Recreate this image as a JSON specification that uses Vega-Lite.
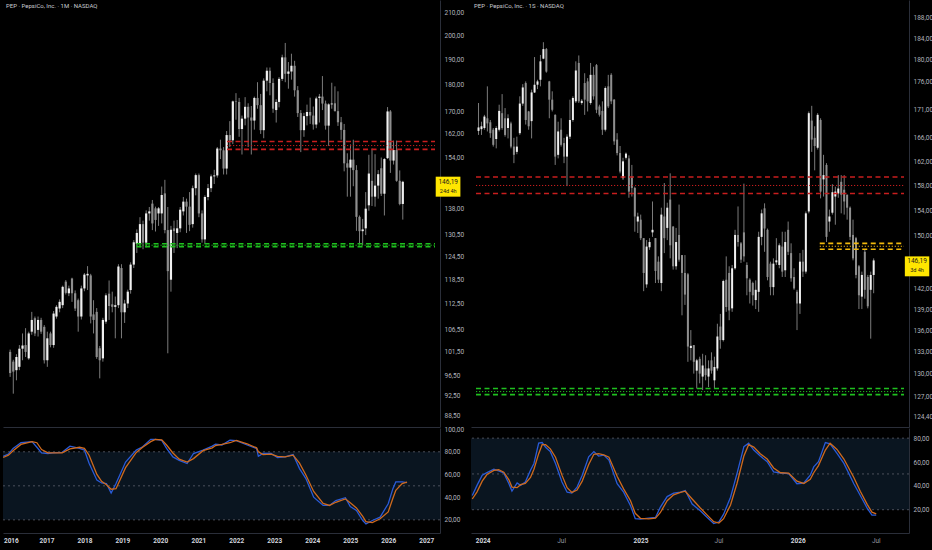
{
  "$schema": "https://vega.github.io/schema/vega-lite/v6.json",
  "background": "#000000",
  "padding": 0,
  "spacing": 1,
  "config": {
    "locale": {"number": {"decimal": ",", "thousands": ".", "grouping": [3], "currency": ["", ""]}},
    "view": {"stroke": null},
    "font": "Roboto",
    "axis": {"title": null, "grid": false, "ticks": false, "labelOverlap": false, "labelFont": "Roboto", "labelFontSize": 6.5, "labelColor": "#b2b5be", "domainColor": "#2a2e39", "domainWidth": 1}
  },
  "datasets": {
    "monthly": [
      {"t":"2015-12-01","o":101.5,"h":102.0,"l":96.2,"c":97.0},
      {"t":"2016-01-01","o":99.4,"h":99.8,"l":92.8,"c":97.3},
      {"t":"2016-02-01","o":97.6,"h":101.0,"l":95.5,"c":100.4},
      {"t":"2016-03-01","o":98.3,"h":103.0,"l":97.6,"c":102.2},
      {"t":"2016-04-01","o":102.2,"h":105.6,"l":99.7,"c":102.9},
      {"t":"2016-05-01","o":103.0,"h":106.8,"l":100.4,"c":101.5},
      {"t":"2016-06-01","o":100.1,"h":106.0,"l":99.8,"c":105.6},
      {"t":"2016-07-01","o":106.0,"h":110.6,"l":105.3,"c":108.7},
      {"t":"2016-08-01","o":109.1,"h":109.5,"l":105.0,"c":105.6},
      {"t":"2016-09-01","o":106.4,"h":109.5,"l":104.9,"c":108.7},
      {"t":"2016-10-01","o":108.7,"h":109.2,"l":105.5,"c":106.0},
      {"t":"2016-11-01","o":107.1,"h":107.5,"l":99.0,"c":99.7},
      {"t":"2016-12-01","o":99.7,"h":106.0,"l":98.3,"c":104.5},
      {"t":"2017-01-01","o":105.6,"h":106.0,"l":102.5,"c":103.0},
      {"t":"2017-02-01","o":103.0,"h":110.8,"l":102.4,"c":110.2},
      {"t":"2017-03-01","o":109.5,"h":112.2,"l":109.0,"c":111.8},
      {"t":"2017-04-01","o":111.4,"h":113.6,"l":110.5,"c":113.0},
      {"t":"2017-05-01","o":112.2,"h":117.0,"l":111.5,"c":116.7},
      {"t":"2017-06-01","o":118.0,"h":118.4,"l":114.8,"c":115.2},
      {"t":"2017-07-01","o":115.1,"h":117.0,"l":114.4,"c":116.3},
      {"t":"2017-08-01","o":118.8,"h":119.0,"l":113.0,"c":115.1},
      {"t":"2017-09-01","o":115.1,"h":115.8,"l":110.8,"c":111.4},
      {"t":"2017-10-01","o":113.4,"h":113.8,"l":106.0,"c":109.5},
      {"t":"2017-11-01","o":109.5,"h":117.0,"l":108.8,"c":116.3},
      {"t":"2017-12-01","o":116.3,"h":120.2,"l":115.6,"c":119.8},
      {"t":"2018-01-01","o":119.6,"h":122.0,"l":115.9,"c":120.0},
      {"t":"2018-02-01","o":119.6,"h":120.0,"l":107.9,"c":109.5},
      {"t":"2018-03-01","o":110.0,"h":113.4,"l":105.6,"c":108.7},
      {"t":"2018-04-01","o":110.6,"h":111.5,"l":100.0,"c":100.4},
      {"t":"2018-05-01","o":102.3,"h":102.8,"l":95.9,"c":99.7},
      {"t":"2018-06-01","o":100.1,"h":109.2,"l":99.4,"c":108.7},
      {"t":"2018-07-01","o":108.3,"h":115.1,"l":107.8,"c":114.6},
      {"t":"2018-08-01","o":115.0,"h":118.3,"l":108.7,"c":112.0},
      {"t":"2018-09-01","o":112.4,"h":115.5,"l":110.5,"c":111.8},
      {"t":"2018-10-01","o":111.8,"h":114.3,"l":104.5,"c":112.2},
      {"t":"2018-11-01","o":112.2,"h":122.5,"l":111.5,"c":121.9},
      {"t":"2018-12-01","o":121.5,"h":122.5,"l":104.5,"c":110.5},
      {"t":"2019-01-01","o":110.5,"h":113.5,"l":108.0,"c":112.6},
      {"t":"2019-02-01","o":112.6,"h":116.0,"l":111.5,"c":115.5},
      {"t":"2019-03-01","o":115.9,"h":123.0,"l":115.0,"c":122.4},
      {"t":"2019-04-01","o":122.4,"h":129.0,"l":121.5,"c":128.4},
      {"t":"2019-05-01","o":128.0,"h":132.0,"l":125.5,"c":131.0},
      {"t":"2019-06-01","o":128.0,"h":135.5,"l":127.0,"c":133.5},
      {"t":"2019-07-01","o":133.5,"h":134.5,"l":126.5,"c":128.3},
      {"t":"2019-08-01","o":128.3,"h":137.5,"l":127.0,"c":136.6},
      {"t":"2019-09-01","o":136.6,"h":138.5,"l":134.5,"c":137.2},
      {"t":"2019-10-01","o":139.5,"h":140.6,"l":131.8,"c":133.7},
      {"t":"2019-11-01","o":138.1,"h":138.6,"l":131.4,"c":134.7},
      {"t":"2019-12-01","o":136.6,"h":138.5,"l":133.0,"c":138.1},
      {"t":"2020-01-01","o":136.6,"h":144.7,"l":133.7,"c":142.1},
      {"t":"2020-02-01","o":142.6,"h":146.8,"l":130.9,"c":131.8},
      {"t":"2020-03-01","o":131.8,"h":138.5,"l":101.2,"c":120.7},
      {"t":"2020-04-01","o":118.5,"h":133.0,"l":115.5,"c":131.9},
      {"t":"2020-05-01","o":132.3,"h":134.5,"l":125.5,"c":131.5},
      {"t":"2020-06-01","o":131.0,"h":134.7,"l":126.8,"c":132.3},
      {"t":"2020-07-01","o":132.3,"h":138.5,"l":131.2,"c":137.7},
      {"t":"2020-08-01","o":137.2,"h":141.5,"l":136.0,"c":140.1},
      {"t":"2020-09-01","o":140.1,"h":141.0,"l":131.0,"c":138.6},
      {"t":"2020-10-01","o":138.6,"h":143.0,"l":131.5,"c":133.3},
      {"t":"2020-11-01","o":133.5,"h":145.0,"l":132.5,"c":144.2},
      {"t":"2020-12-01","o":144.2,"h":148.8,"l":142.0,"c":148.3},
      {"t":"2021-01-01","o":148.3,"h":148.8,"l":135.5,"c":136.6},
      {"t":"2021-02-01","o":136.6,"h":137.5,"l":128.3,"c":129.2},
      {"t":"2021-03-01","o":129.2,"h":142.0,"l":128.0,"c":141.5},
      {"t":"2021-04-01","o":141.5,"h":145.5,"l":140.5,"c":144.2},
      {"t":"2021-05-01","o":144.2,"h":148.5,"l":143.0,"c":147.9},
      {"t":"2021-06-01","o":147.9,"h":150.0,"l":145.5,"c":148.2},
      {"t":"2021-07-01","o":148.2,"h":157.5,"l":147.5,"c":157.0},
      {"t":"2021-08-01","o":157.0,"h":160.0,"l":153.5,"c":156.4},
      {"t":"2021-09-01","o":156.4,"h":157.5,"l":148.5,"c":150.4},
      {"t":"2021-10-01","o":150.4,"h":163.0,"l":148.5,"c":161.6},
      {"t":"2021-11-01","o":161.6,"h":166.5,"l":157.5,"c":159.8},
      {"t":"2021-12-01","o":159.8,"h":174.0,"l":158.5,"c":173.7},
      {"t":"2022-01-01","o":173.7,"h":176.8,"l":167.0,"c":173.5},
      {"t":"2022-02-01","o":173.5,"h":175.0,"l":161.0,"c":163.7},
      {"t":"2022-03-01","o":163.7,"h":168.5,"l":155.0,"c":167.4},
      {"t":"2022-04-01","o":167.4,"h":175.3,"l":165.0,"c":171.7},
      {"t":"2022-05-01","o":171.7,"h":173.0,"l":157.5,"c":167.8},
      {"t":"2022-06-01","o":167.8,"h":172.0,"l":155.0,"c":166.7},
      {"t":"2022-07-01","o":166.7,"h":175.5,"l":163.5,"c":175.0},
      {"t":"2022-08-01","o":175.0,"h":181.0,"l":171.0,"c":172.3},
      {"t":"2022-09-01","o":172.3,"h":176.5,"l":162.0,"c":163.3},
      {"t":"2022-10-01","o":163.3,"h":182.5,"l":160.5,"c":181.6},
      {"t":"2022-11-01","o":181.6,"h":186.8,"l":177.5,"c":185.5},
      {"t":"2022-12-01","o":185.5,"h":186.8,"l":176.0,"c":180.7},
      {"t":"2023-01-01","o":180.7,"h":182.5,"l":169.5,"c":171.0},
      {"t":"2023-02-01","o":170.5,"h":174.5,"l":166.0,"c":173.5},
      {"t":"2023-03-01","o":173.5,"h":183.0,"l":171.5,"c":182.3},
      {"t":"2023-04-01","o":182.3,"h":192.0,"l":181.5,"c":190.9},
      {"t":"2023-05-01","o":190.9,"h":196.9,"l":181.0,"c":184.3},
      {"t":"2023-06-01","o":184.3,"h":189.0,"l":178.5,"c":185.2},
      {"t":"2023-07-01","o":185.2,"h":192.4,"l":182.0,"c":187.5},
      {"t":"2023-08-01","o":187.5,"h":189.5,"l":175.5,"c":177.9},
      {"t":"2023-09-01","o":177.9,"h":179.5,"l":168.0,"c":169.4},
      {"t":"2023-10-01","o":169.4,"h":170.5,"l":155.8,"c":163.3},
      {"t":"2023-11-01","o":163.3,"h":169.5,"l":161.0,"c":168.3},
      {"t":"2023-12-01","o":168.3,"h":172.5,"l":165.0,"c":169.8},
      {"t":"2024-01-01","o":169.8,"h":175.1,"l":165.5,"c":168.5},
      {"t":"2024-02-01","o":168.5,"h":171.8,"l":163.5,"c":165.3},
      {"t":"2024-03-01","o":165.3,"h":175.5,"l":164.0,"c":174.8},
      {"t":"2024-04-01","o":175.0,"h":176.5,"l":166.0,"c":175.5},
      {"t":"2024-05-01","o":175.5,"h":183.4,"l":170.5,"c":172.9},
      {"t":"2024-06-01","o":172.9,"h":174.0,"l":163.5,"c":164.9},
      {"t":"2024-07-01","o":164.9,"h":173.0,"l":157.9,"c":172.6},
      {"t":"2024-08-01","o":172.6,"h":180.8,"l":171.0,"c":172.9},
      {"t":"2024-09-01","o":173.0,"h":179.4,"l":170.0,"c":170.1},
      {"t":"2024-10-01","o":170.1,"h":177.5,"l":164.8,"c":166.1},
      {"t":"2024-11-01","o":166.1,"h":168.0,"l":160.0,"c":163.4},
      {"t":"2024-12-01","o":163.4,"h":165.5,"l":149.5,"c":152.1},
      {"t":"2025-01-01","o":152.1,"h":155.4,"l":141.6,"c":150.7},
      {"t":"2025-02-01","o":150.7,"h":158.4,"l":141.6,"c":153.3},
      {"t":"2025-03-01","o":153.3,"h":160.0,"l":144.8,"c":149.9},
      {"t":"2025-04-01","o":149.9,"h":151.5,"l":131.6,"c":135.6},
      {"t":"2025-05-01","o":135.6,"h":136.0,"l":127.8,"c":131.5},
      {"t":"2025-06-01","o":131.5,"h":135.0,"l":127.6,"c":132.0},
      {"t":"2025-07-01","o":132.3,"h":143.0,"l":130.4,"c":138.0},
      {"t":"2025-08-01","o":139.0,"h":154.9,"l":137.4,"c":148.8},
      {"t":"2025-09-01","o":146.5,"h":157.0,"l":138.8,"c":141.6},
      {"t":"2025-10-01","o":141.6,"h":155.1,"l":138.6,"c":145.0},
      {"t":"2025-11-01","o":145.0,"h":149.9,"l":141.0,"c":148.6},
      {"t":"2025-12-01","o":150.5,"h":154.0,"l":141.8,"c":142.5},
      {"t":"2026-01-01","o":142.5,"h":153.8,"l":136.0,"c":153.5},
      {"t":"2026-02-01","o":153.8,"h":171.6,"l":153.5,"c":170.0},
      {"t":"2026-03-01","o":170.0,"h":170.5,"l":149.0,"c":153.0},
      {"t":"2026-04-01","o":153.0,"h":159.7,"l":151.7,"c":156.5},
      {"t":"2026-05-01","o":156.5,"h":159.7,"l":146.2,"c":146.5},
      {"t":"2026-06-01","o":146.5,"h":149.8,"l":139.0,"c":139.4},
      {"t":"2026-07-01","o":139.4,"h":146.5,"l":134.8,"c":146.19}
    ],
    "weekly": [
      {"t":"2023-12-11","o":167.2,"h":172.1,"l":166.5,"c":167.8},
      {"t":"2023-12-18","o":167.5,"h":168.8,"l":166.5,"c":168.0},
      {"t":"2023-12-25","o":167.7,"h":170.0,"l":167.4,"c":169.7},
      {"t":"2024-01-01","o":169.4,"h":175.1,"l":167.1,"c":168.5},
      {"t":"2024-01-08","o":168.7,"h":169.1,"l":166.0,"c":166.8},
      {"t":"2024-01-15","o":167.4,"h":167.7,"l":164.5,"c":164.8},
      {"t":"2024-01-22","o":165.8,"h":168.0,"l":164.2,"c":167.7},
      {"t":"2024-01-29","o":167.4,"h":171.8,"l":167.1,"c":170.7},
      {"t":"2024-02-05","o":170.3,"h":173.7,"l":167.4,"c":167.7},
      {"t":"2024-02-12","o":169.4,"h":171.2,"l":166.2,"c":166.5},
      {"t":"2024-02-19","o":167.7,"h":170.1,"l":165.9,"c":169.4},
      {"t":"2024-02-26","o":168.5,"h":168.8,"l":164.2,"c":164.5},
      {"t":"2024-03-04","o":164.5,"h":166.0,"l":161.7,"c":163.1},
      {"t":"2024-03-11","o":163.6,"h":166.2,"l":163.2,"c":164.5},
      {"t":"2024-03-18","o":166.8,"h":173.3,"l":166.5,"c":172.0},
      {"t":"2024-03-25","o":172.0,"h":175.5,"l":171.6,"c":174.9},
      {"t":"2024-04-01","o":175.7,"h":176.0,"l":168.3,"c":169.1},
      {"t":"2024-04-08","o":170.6,"h":170.7,"l":167.4,"c":168.0},
      {"t":"2024-04-15","o":168.9,"h":174.5,"l":165.9,"c":174.0},
      {"t":"2024-04-22","o":174.0,"h":180.5,"l":173.9,"c":175.4},
      {"t":"2024-04-29","o":175.4,"h":176.3,"l":174.6,"c":176.0},
      {"t":"2024-05-06","o":176.3,"h":180.9,"l":175.1,"c":179.7},
      {"t":"2024-05-13","o":180.2,"h":183.3,"l":180.1,"c":182.0},
      {"t":"2024-05-20","o":182.0,"h":182.2,"l":177.6,"c":177.8},
      {"t":"2024-05-27","o":176.0,"h":176.1,"l":169.4,"c":172.7},
      {"t":"2024-06-03","o":172.7,"h":174.2,"l":170.6,"c":170.9},
      {"t":"2024-06-10","o":170.0,"h":170.1,"l":161.4,"c":162.8},
      {"t":"2024-06-17","o":163.1,"h":168.8,"l":162.5,"c":167.1},
      {"t":"2024-06-24","o":167.4,"h":169.4,"l":164.5,"c":164.8},
      {"t":"2024-07-01","o":165.1,"h":166.0,"l":161.7,"c":162.8},
      {"t":"2024-07-08","o":162.8,"h":166.6,"l":157.9,"c":166.2},
      {"t":"2024-07-15","o":166.2,"h":172.7,"l":165.8,"c":169.1},
      {"t":"2024-07-22","o":169.1,"h":173.3,"l":168.8,"c":173.0},
      {"t":"2024-07-29","o":172.4,"h":179.7,"l":172.1,"c":178.0},
      {"t":"2024-08-05","o":179.4,"h":180.8,"l":172.1,"c":172.4},
      {"t":"2024-08-12","o":172.1,"h":172.8,"l":171.8,"c":172.5},
      {"t":"2024-08-19","o":175.7,"h":177.5,"l":170.0,"c":172.7},
      {"t":"2024-08-26","o":176.0,"h":176.6,"l":170.6,"c":172.4},
      {"t":"2024-09-02","o":172.1,"h":179.4,"l":171.8,"c":177.2},
      {"t":"2024-09-09","o":177.2,"h":178.7,"l":172.7,"c":173.3},
      {"t":"2024-09-16","o":179.0,"h":179.2,"l":170.3,"c":170.9},
      {"t":"2024-09-23","o":171.5,"h":171.8,"l":169.7,"c":170.0},
      {"t":"2024-09-30","o":170.7,"h":172.4,"l":166.5,"c":167.4},
      {"t":"2024-10-07","o":167.4,"h":175.1,"l":167.1,"c":174.8},
      {"t":"2024-10-14","o":175.1,"h":177.2,"l":171.2,"c":171.5},
      {"t":"2024-10-21","o":177.2,"h":177.5,"l":171.9,"c":172.4},
      {"t":"2024-10-28","o":172.7,"h":172.8,"l":164.8,"c":165.4},
      {"t":"2024-11-04","o":165.7,"h":166.8,"l":163.0,"c":163.4},
      {"t":"2024-11-11","o":163.4,"h":164.6,"l":160.0,"c":160.3},
      {"t":"2024-11-18","o":159.2,"h":162.6,"l":158.9,"c":162.0},
      {"t":"2024-11-25","o":162.6,"h":163.5,"l":162.3,"c":163.3},
      {"t":"2024-12-02","o":162.5,"h":163.0,"l":156.0,"c":157.0},
      {"t":"2024-12-09","o":159.5,"h":161.4,"l":156.2,"c":157.6},
      {"t":"2024-12-16","o":157.6,"h":157.8,"l":150.6,"c":153.0},
      {"t":"2024-12-23","o":152.2,"h":153.6,"l":150.4,"c":153.0},
      {"t":"2024-12-30","o":152.5,"h":153.3,"l":149.3,"c":149.6},
      {"t":"2025-01-06","o":149.6,"h":149.6,"l":141.6,"c":144.3},
      {"t":"2025-01-13","o":142.6,"h":149.3,"l":142.1,"c":148.3},
      {"t":"2025-01-20","o":148.2,"h":149.6,"l":147.8,"c":149.0},
      {"t":"2025-01-27","o":150.5,"h":155.4,"l":149.8,"c":150.9},
      {"t":"2025-02-03","o":149.6,"h":149.6,"l":142.8,"c":144.6},
      {"t":"2025-02-10","o":146.0,"h":146.8,"l":142.8,"c":143.3},
      {"t":"2025-02-17","o":142.8,"h":154.4,"l":141.6,"c":153.3},
      {"t":"2025-02-24","o":153.0,"h":158.4,"l":147.3,"c":149.6},
      {"t":"2025-03-03","o":151.2,"h":155.2,"l":149.3,"c":154.4},
      {"t":"2025-03-10","o":155.7,"h":160.0,"l":146.5,"c":148.5},
      {"t":"2025-03-17","o":151.4,"h":151.5,"l":144.8,"c":145.3},
      {"t":"2025-03-24","o":145.3,"h":151.2,"l":144.8,"c":149.0},
      {"t":"2025-03-31","o":150.1,"h":154.9,"l":146.0,"c":146.3},
      {"t":"2025-04-07","o":147.0,"h":147.0,"l":138.1,"c":144.3},
      {"t":"2025-04-14","o":144.3,"h":147.0,"l":139.6,"c":141.1},
      {"t":"2025-04-21","o":144.1,"h":144.3,"l":131.6,"c":133.7},
      {"t":"2025-04-28","o":133.5,"h":136.0,"l":131.8,"c":133.8},
      {"t":"2025-05-05","o":133.9,"h":133.9,"l":130.0,"c":131.6},
      {"t":"2025-05-12","o":130.4,"h":132.0,"l":128.0,"c":131.8},
      {"t":"2025-05-19","o":132.0,"h":132.3,"l":128.7,"c":130.0},
      {"t":"2025-05-26","o":129.6,"h":132.7,"l":127.8,"c":131.1},
      {"t":"2025-06-02","o":130.7,"h":132.5,"l":129.1,"c":129.8},
      {"t":"2025-06-09","o":129.6,"h":131.8,"l":128.2,"c":130.7},
      {"t":"2025-06-16","o":131.8,"h":132.9,"l":130.0,"c":130.4},
      {"t":"2025-06-23","o":129.1,"h":132.3,"l":128.0,"c":130.9},
      {"t":"2025-06-30","o":130.7,"h":136.9,"l":130.4,"c":135.1},
      {"t":"2025-07-07","o":136.5,"h":138.3,"l":133.4,"c":134.6},
      {"t":"2025-07-14","o":134.6,"h":143.3,"l":134.4,"c":143.1},
      {"t":"2025-07-21","o":143.3,"h":146.8,"l":138.6,"c":139.3},
      {"t":"2025-07-28","o":144.3,"h":145.3,"l":137.4,"c":138.8},
      {"t":"2025-08-04","o":139.1,"h":145.5,"l":138.6,"c":145.0},
      {"t":"2025-08-11","o":145.0,"h":150.9,"l":144.8,"c":150.1},
      {"t":"2025-08-18","o":150.1,"h":154.6,"l":148.3,"c":149.0},
      {"t":"2025-08-25","o":148.8,"h":149.0,"l":145.8,"c":146.3},
      {"t":"2025-09-01","o":150.5,"h":158.3,"l":146.0,"c":146.8},
      {"t":"2025-09-08","o":145.5,"h":145.9,"l":141.0,"c":143.5},
      {"t":"2025-09-15","o":143.3,"h":143.5,"l":139.8,"c":141.5},
      {"t":"2025-09-22","o":142.8,"h":143.0,"l":139.5,"c":141.0},
      {"t":"2025-09-29","o":140.3,"h":143.2,"l":139.0,"c":141.8},
      {"t":"2025-10-06","o":141.5,"h":150.6,"l":138.6,"c":149.8},
      {"t":"2025-10-13","o":149.8,"h":154.1,"l":148.5,"c":153.5},
      {"t":"2025-10-20","o":154.3,"h":155.1,"l":147.5,"c":151.1},
      {"t":"2025-10-27","o":150.9,"h":151.1,"l":143.2,"c":143.7},
      {"t":"2025-11-03","o":145.7,"h":146.0,"l":141.0,"c":142.2},
      {"t":"2025-11-10","o":142.2,"h":146.5,"l":141.0,"c":145.7},
      {"t":"2025-11-17","o":145.9,"h":149.6,"l":145.5,"c":146.2},
      {"t":"2025-11-24","o":145.5,"h":148.8,"l":145.0,"c":148.5},
      {"t":"2025-12-01","o":148.3,"h":150.6,"l":143.7,"c":144.5},
      {"t":"2025-12-08","o":144.7,"h":150.6,"l":143.7,"c":149.0},
      {"t":"2025-12-15","o":150.9,"h":152.2,"l":147.0,"c":147.5},
      {"t":"2025-12-22","o":147.3,"h":148.8,"l":143.0,"c":143.5},
      {"t":"2025-12-29","o":143.7,"h":145.0,"l":141.8,"c":142.0},
      {"t":"2026-01-05","o":141.5,"h":141.8,"l":136.0,"c":139.8},
      {"t":"2026-01-12","o":139.8,"h":147.3,"l":138.3,"c":146.0},
      {"t":"2026-01-19","o":146.0,"h":147.8,"l":143.7,"c":144.5},
      {"t":"2026-01-26","o":144.5,"h":153.8,"l":144.2,"c":153.5},
      {"t":"2026-02-02","o":153.8,"h":170.6,"l":153.5,"c":170.3},
      {"t":"2026-02-09","o":169.0,"h":171.6,"l":163.6,"c":165.7},
      {"t":"2026-02-16","o":166.0,"h":168.0,"l":160.5,"c":164.6},
      {"t":"2026-02-23","o":164.3,"h":170.3,"l":164.0,"c":170.0},
      {"t":"2026-03-02","o":169.1,"h":169.4,"l":155.9,"c":157.0},
      {"t":"2026-03-09","o":159.0,"h":163.1,"l":156.2,"c":159.7},
      {"t":"2026-03-16","o":161.4,"h":161.7,"l":149.0,"c":149.8},
      {"t":"2026-03-23","o":152.2,"h":154.1,"l":150.6,"c":153.0},
      {"t":"2026-03-30","o":153.6,"h":158.2,"l":153.3,"c":156.9},
      {"t":"2026-04-06","o":156.2,"h":157.8,"l":151.7,"c":157.0},
      {"t":"2026-04-13","o":156.7,"h":159.7,"l":156.0,"c":157.5},
      {"t":"2026-04-20","o":158.6,"h":159.7,"l":153.5,"c":156.5},
      {"t":"2026-04-27","o":157.3,"h":159.7,"l":153.3,"c":155.4},
      {"t":"2026-05-04","o":156.5,"h":156.5,"l":152.5,"c":154.4},
      {"t":"2026-05-11","o":154.4,"h":154.6,"l":149.3,"c":149.8},
      {"t":"2026-05-18","o":150.1,"h":152.5,"l":146.2,"c":146.5},
      {"t":"2026-05-25","o":149.6,"h":149.8,"l":143.5,"c":144.0},
      {"t":"2026-06-01","o":145.3,"h":145.5,"l":139.0,"c":141.0},
      {"t":"2026-06-08","o":140.8,"h":144.5,"l":139.0,"c":144.0},
      {"t":"2026-06-15","o":147.5,"h":147.8,"l":140.5,"c":141.8},
      {"t":"2026-06-22","o":143.7,"h":144.0,"l":139.1,"c":139.4},
      {"t":"2026-06-29","o":141.8,"h":144.5,"l":134.8,"c":144.0},
      {"t":"2026-07-06","o":144.0,"h":146.5,"l":141.3,"c":146.19}
    ],
    "stochL": [
      {"t":"2015-11-12","k":76,"d":75},{"t":"2016-01-01","k":78,"d":77},{"t":"2016-02-15","k":83,"d":81},
      {"t":"2016-05-01","k":88,"d":86.5},{"t":"2016-08-15","k":89,"d":89},{"t":"2016-10-01","k":84,"d":88},
      {"t":"2016-11-15","k":79,"d":82},{"t":"2017-01-15","k":78.5,"d":79},{"t":"2017-03-01","k":79,"d":79},
      {"t":"2017-06-01","k":79.5,"d":79},{"t":"2017-08-15","k":85,"d":82.5},{"t":"2017-11-15","k":83,"d":84},
      {"t":"2018-01-01","k":81.5,"d":83},{"t":"2018-02-15","k":70,"d":77},{"t":"2018-05-01","k":55,"d":60},
      {"t":"2018-06-15","k":52.5,"d":54},{"t":"2018-08-01","k":52,"d":51},{"t":"2018-09-15","k":43.6,"d":47},
      {"t":"2018-11-01","k":52,"d":47.5},{"t":"2019-02-01","k":71,"d":66},{"t":"2019-05-15","k":81.5,"d":79.5},
      {"t":"2019-07-15","k":84.5,"d":84},{"t":"2019-10-01","k":91,"d":89},{"t":"2019-11-15","k":91,"d":91},
      {"t":"2020-01-15","k":90,"d":90.5},{"t":"2020-03-01","k":83,"d":86},{"t":"2020-05-01","k":75.5,"d":79},
      {"t":"2020-07-01","k":72.5,"d":73.5},{"t":"2020-09-15","k":69.7,"d":71},{"t":"2020-11-15","k":78.5,"d":74},
      {"t":"2021-02-15","k":81.5,"d":81},{"t":"2021-05-15","k":85,"d":83.5},{"t":"2021-06-15","k":86.8,"d":85.5},
      {"t":"2021-08-15","k":86,"d":86.5},{"t":"2021-11-01","k":90.3,"d":88},{"t":"2022-01-01","k":89.8,"d":90},
      {"t":"2022-04-15","k":86,"d":87},{"t":"2022-07-15","k":83,"d":83.5},{"t":"2022-08-01","k":76,"d":80},
      {"t":"2022-09-15","k":78.5,"d":77.5},{"t":"2022-12-01","k":78.5,"d":78},{"t":"2023-02-01","k":75,"d":76},
      {"t":"2023-04-15","k":75.6,"d":75.5},{"t":"2023-07-01","k":77.6,"d":77},{"t":"2023-09-01","k":65.2,"d":70},
      {"t":"2023-11-01","k":56.4,"d":59.5},{"t":"2024-01-15","k":40,"d":45},{"t":"2024-04-15","k":32.7,"d":34.5},
      {"t":"2024-06-15","k":32.7,"d":32.7},{"t":"2024-08-15","k":37,"d":35.5},{"t":"2024-11-15","k":39.5,"d":38.5},
      {"t":"2025-01-01","k":31.8,"d":35},{"t":"2025-03-01","k":28.3,"d":30.5},{"t":"2025-05-01","k":19.4,"d":23},
      {"t":"2025-06-01","k":16.4,"d":18.5},{"t":"2025-08-01","k":19.4,"d":17.5},{"t":"2025-10-15","k":22.4,"d":21},
      {"t":"2026-01-01","k":34.2,"d":27},{"t":"2026-02-15","k":47.5,"d":39},{"t":"2026-03-15","k":53.4,"d":46},
      {"t":"2026-05-15","k":53.4,"d":52},{"t":"2026-07-01","k":52.8,"d":53.2}
    ],
    "stochR": [
      {"t":"2023-12-08","k":31.9,"d":29},{"t":"2023-12-19","k":40.4,"d":35},{"t":"2023-12-31","k":48.9,"d":44},
      {"t":"2024-01-11","k":51.1,"d":49.5},{"t":"2024-01-27","k":54,"d":53},{"t":"2024-02-07","k":52.5,"d":53.5},
      {"t":"2024-02-19","k":50.8,"d":51.5},{"t":"2024-03-02","k":41.8,"d":45},{"t":"2024-03-09","k":35.6,"d":39},
      {"t":"2024-03-21","k":42.4,"d":38.5},{"t":"2024-03-29","k":40.4,"d":41},{"t":"2024-04-09","k":43.2,"d":42},
      {"t":"2024-04-21","k":53.1,"d":47},{"t":"2024-04-29","k":58.8,"d":54},{"t":"2024-05-10","k":75.8,"d":67},
      {"t":"2024-05-18","k":76.3,"d":74.5},{"t":"2024-05-26","k":72.4,"d":74.5},{"t":"2024-06-06","k":68.7,"d":71},
      {"t":"2024-06-18","k":58.8,"d":64},{"t":"2024-07-03","k":43.2,"d":49},{"t":"2024-07-15","k":34.7,"d":38.5},
      {"t":"2024-07-26","k":33.9,"d":34.5},{"t":"2024-08-07","k":39,"d":36.5},{"t":"2024-08-19","k":48.9,"d":44},
      {"t":"2024-09-03","k":64.4,"d":58},{"t":"2024-09-15","k":68.7,"d":66.5},{"t":"2024-09-26","k":65,"d":67},
      {"t":"2024-10-08","k":65.8,"d":66},{"t":"2024-10-20","k":61.6,"d":64},{"t":"2024-11-08","k":41.8,"d":48},
      {"t":"2024-11-23","k":34.7,"d":37.5},{"t":"2024-12-09","k":23.4,"d":27.5},{"t":"2024-12-20","k":12.6,"d":17},
      {"t":"2025-01-01","k":12.1,"d":12.8},{"t":"2025-01-20","k":12.9,"d":12.4},{"t":"2025-02-05","k":13.5,"d":13},
      {"t":"2025-02-16","k":22,"d":17.5},{"t":"2025-03-04","k":31,"d":27.5},{"t":"2025-03-19","k":33.9,"d":32.5},
      {"t":"2025-04-04","k":34.7,"d":34.5},{"t":"2025-04-15","k":36.1,"d":35.5},{"t":"2025-05-01","k":24.8,"d":29},
      {"t":"2025-05-20","k":19.1,"d":21.5},{"t":"2025-06-05","k":13.5,"d":15.5},{"t":"2025-06-20","k":8.4,"d":10},
      {"t":"2025-07-02","k":9.8,"d":8.8},{"t":"2025-07-13","k":16.3,"d":12.5},{"t":"2025-07-29","k":30.5,"d":24},
      {"t":"2025-08-13","k":50.3,"d":42},{"t":"2025-08-29","k":72.9,"d":65},{"t":"2025-09-09","k":75.8,"d":74.5},
      {"t":"2025-09-21","k":70,"d":72.5},{"t":"2025-10-06","k":65,"d":67},{"t":"2025-10-22","k":60.2,"d":62.5},
      {"t":"2025-11-06","k":51.7,"d":55},{"t":"2025-11-22","k":50.8,"d":51},{"t":"2025-12-11","k":50.3,"d":50.6},
      {"t":"2025-12-30","k":41.8,"d":44},{"t":"2026-01-15","k":42.4,"d":42},{"t":"2026-01-30","k":48.9,"d":45.5},
      {"t":"2026-02-07","k":55.9,"d":51},{"t":"2026-02-18","k":60.2,"d":57},{"t":"2026-03-06","k":76.3,"d":70},
      {"t":"2026-03-17","k":75.2,"d":75.8},{"t":"2026-04-02","k":67.3,"d":70.5},{"t":"2026-04-18","k":58.8,"d":62.5},
      {"t":"2026-05-11","k":41.8,"d":47},{"t":"2026-05-26","k":31.9,"d":35.5},{"t":"2026-06-11","k":21.4,"d":24.5},
      {"t":"2026-06-22","k":15.5,"d":18},{"t":"2026-07-02","k":15.5,"d":16.5}
    ],
    "levelsL": [
      {"p":159.4,"zone":"resistance","part":"edge","start":"2021-10-05"},
      {"p":156.7,"zone":"resistance","part":"edge","start":"2021-10-05"},
      {"p":158.0,"zone":"resistance","part":"mid","start":"2021-10-05"},
      {"p":128.0,"zone":"support","part":"edge","start":"2019-04-28"},
      {"p":127.2,"zone":"support","part":"edge","start":"2019-04-28"},
      {"p":127.6,"zone":"support","part":"mid","start":"2019-04-28"}
    ],
    "levelsR": [
      {"p":159.4,"zone":"resistance","part":"edge","start":"2023-12-05"},
      {"p":156.7,"zone":"resistance","part":"edge","start":"2023-12-05"},
      {"p":158.0,"zone":"resistance","part":"mid","start":"2023-12-05"},
      {"p":128.0,"zone":"support","part":"edge","start":"2023-12-05"},
      {"p":127.2,"zone":"support","part":"edge","start":"2023-12-05"},
      {"p":127.6,"zone":"support","part":"mid","start":"2023-12-05"},
      {"p":148.8,"zone":"pivot","part":"edge","start":"2026-02-28"},
      {"p":147.9,"zone":"pivot","part":"edge","start":"2026-02-28"},
      {"p":148.35,"zone":"pivot","part":"mid","start":"2026-02-28"}
    ],
    "bands": [{"lo": 20, "hi": 80}],
    "guides": [{"v": 80}, {"v": 50}, {"v": 20}]
  },
  "hconcat": [
    {
      "spacing": 1,
      "bounds": "flush",
      "vconcat": [
        {
          "width": 437,
          "height": 427,
          "title": {"text": "PEP · PepsiCo, Inc. · 1M · NASDAQ", "anchor": "start", "frame": "group", "offset": -9, "dx": 3, "fontSize": 6, "fontWeight": "normal", "color": "#c9cbd1", "font": "Roboto"},
          "layer": [
            {
              "data": {"name": "monthly"},
              "mark": {"type": "rule", "color": "#7b7b7b", "strokeWidth": 1},
              "encoding": {
                "x": {"field": "t", "type": "temporal", "scale": {"type": "utc", "domain": [{"year": 2015, "month": 11, "date": 10, "utc": true}, {"year": 2027, "month": 5, "date": 14, "utc": true}]}, "axis": {"labels": false, "domain": true, "minExtent": 0, "maxExtent": 0}},
                "y": {"field": "l", "type": "quantitative", "scale": {"type": "log", "domain": [86.4, 215.9], "nice": false}, "axis": {"orient": "right", "values": [88.5, 92.5, 96.5, 101.5, 106.5, 112.5, 118.5, 124.5, 130.5, 138, 154, 162, 170, 180, 190, 200, 210], "tickCount": 50, "format": ".2f", "labelPadding": 4, "minExtent": 28, "maxExtent": 28}},
                "y2": {"field": "h"}
              }
            },
            {
              "data": {"name": "monthly"},
              "mark": {"type": "bar", "size": 2.2, "orient": "vertical"},
              "encoding": {
                "x": {"field": "t", "type": "temporal"},
                "y": {"field": "o", "type": "quantitative"},
                "y2": {"field": "c"},
                "color": {"condition": {"test": "datum.c >= datum.o", "value": "#f0f0f0"}, "value": "#8e8e8e"}
              }
            },
            {
              "data": {"name": "levelsL"},
              "mark": {"type": "rule"},
              "encoding": {
                "x": {"field": "start", "type": "temporal"},
                "x2": {"datum": {"year": 2027, "month": 5, "date": 14, "utc": true}},
                "y": {"field": "p", "type": "quantitative"},
                "color": {"field": "zone", "type": "nominal", "scale": {"domain": ["resistance", "support", "pivot"], "range": ["#c81e1e", "#1fbf1f", "#f2b90c"]}, "legend": null},
                "strokeDash": {"field": "part", "type": "nominal", "scale": {"domain": ["edge", "mid"], "range": [[5, 3.5], [1.2, 1.8]]}, "legend": null},
                "strokeWidth": {"field": "part", "type": "ordinal", "scale": {"domain": ["edge", "mid"], "range": [1.6, 1]}, "legend": null}
              }
            },
            {
              "data": {"values": [{}]},
              "mark": {"type": "rect", "color": "#ffe600"},
              "encoding": {
                "x": {"datum": {"year": 2027, "month": 5, "date": 21, "utc": true}, "type": "temporal"},
                "x2": {"datum": {"year": 2028, "month": 1, "date": 19, "utc": true}},
                "y": {"datum": 147.8, "type": "quantitative"},
                "y2": {"datum": 141.6}
              }
            },
            {
              "data": {"name": "monthly"},
              "transform": [{"filter": "datum.c == 146.19"}],
              "mark": {"type": "text", "font": "Roboto", "fontSize": 6.5, "color": "#1a1a1a", "align": "center", "baseline": "middle"},
              "encoding": {
                "x": {"datum": {"year": 2027, "month": 9, "date": 21, "utc": true}, "type": "temporal"},
                "y": {"field": "c", "type": "quantitative"},
                "text": {"field": "c", "type": "quantitative", "format": ".2f"}
              }
            },
            {
              "data": {"name": "monthly"},
              "transform": [{"filter": "datum.c == 146.19"}],
              "mark": {"type": "text", "font": "Roboto", "fontSize": 5.5, "color": "#1a1a1a", "align": "center", "baseline": "middle", "dy": 9, "text": "24d 4h"},
              "encoding": {
                "x": {"datum": {"year": 2027, "month": 9, "date": 21, "utc": true}, "type": "temporal"},
                "y": {"field": "c", "type": "quantitative"}
              }
            }
          ]
        },
        {
          "width": 437,
          "height": 105,
          "layer": [
            {
              "data": {"name": "bands"},
              "mark": {"type": "rect", "color": "#0a1520"},
              "encoding": {
                "x": {"datum": {"year": 2015, "month": 11, "date": 10, "utc": true}, "type": "temporal"},
                "x2": {"datum": {"year": 2027, "month": 5, "date": 14, "utc": true}},
                "y": {"field": "lo", "type": "quantitative"},
                "y2": {"field": "hi"}
              }
            },
            {
              "data": {"name": "guides"},
              "mark": {"type": "rule", "color": "#5d606b", "strokeDash": [2, 3], "strokeWidth": 0.8},
              "encoding": {"y": {"field": "v", "type": "quantitative"}}
            },
            {
              "data": {"name": "stochL"},
              "mark": {"type": "line", "color": "#2a5bd7", "strokeWidth": 1.3},
              "encoding": {
                "x": {"field": "t", "type": "temporal", "scale": {"type": "utc", "domain": [{"year": 2015, "month": 11, "date": 10, "utc": true}, {"year": 2027, "month": 5, "date": 14, "utc": true}]},
                  "axis": {"values": [{"year": 2016, "month": 1, "date": 1, "utc": true}, {"year": 2017, "month": 1, "date": 1, "utc": true}, {"year": 2018, "month": 1, "date": 1, "utc": true}, {"year": 2019, "month": 1, "date": 1, "utc": true}, {"year": 2020, "month": 1, "date": 1, "utc": true}, {"year": 2021, "month": 1, "date": 1, "utc": true}, {"year": 2022, "month": 1, "date": 1, "utc": true}, {"year": 2023, "month": 1, "date": 1, "utc": true}, {"year": 2024, "month": 1, "date": 1, "utc": true}, {"year": 2025, "month": 1, "date": 1, "utc": true}, {"year": 2026, "month": 1, "date": 1, "utc": true}, {"year": 2027, "month": 1, "date": 1, "utc": true}],
                    "tickCount": 50, "labelExpr": "utcFormat(datum.value, '%Y')", "labelFontWeight": "bold", "labelColor": "#d1d4dc", "labelPadding": 4, "labelFlush": 8, "labelFlushOffset": 5, "minExtent": 17, "maxExtent": 17, "domain": true}},
                "y": {"field": "k", "type": "quantitative", "scale": {"domain": [8.4, 101], "nice": false, "zero": false}, "axis": {"orient": "right", "values": [20, 40, 60, 80, 100], "tickCount": 50, "format": ".2f", "labelPadding": 4, "minExtent": 28, "maxExtent": 28}}
              }
            },
            {
              "data": {"name": "stochL"},
              "mark": {"type": "line", "color": "#cf6a1d", "strokeWidth": 1.3},
              "encoding": {"x": {"field": "t", "type": "temporal"}, "y": {"field": "d", "type": "quantitative"}}
            }
          ]
        }
      ]
    },
    {
      "spacing": 1,
      "bounds": "flush",
      "vconcat": [
        {
          "width": 438,
          "height": 427,
          "title": {"text": "PEP · PepsiCo, Inc. · 1S · NASDAQ", "anchor": "start", "frame": "group", "offset": -9, "dx": 3, "fontSize": 6, "fontWeight": "normal", "color": "#c9cbd1", "font": "Roboto"},
          "layer": [
            {
              "data": {"name": "weekly"},
              "mark": {"type": "rule", "color": "#7b7b7b", "strokeWidth": 1},
              "encoding": {
                "x": {"field": "t", "type": "temporal", "scale": {"type": "utc", "domain": [{"year": 2023, "month": 12, "date": 5, "utc": true}, {"year": 2026, "month": 9, "date": 16, "utc": true}]}, "axis": {"labels": false, "domain": true, "minExtent": 0, "maxExtent": 0}},
                "y": {"field": "l", "type": "quantitative", "scale": {"type": "log", "domain": [123.0, 191.5], "nice": false}, "axis": {"orient": "right", "values": [124.4, 127, 130, 133, 136, 139, 142, 150, 154, 158, 162, 166, 171, 176, 180, 184, 188], "tickCount": 50, "format": ".2f", "labelPadding": 4, "minExtent": 28, "maxExtent": 28}},
                "y2": {"field": "h"}
              }
            },
            {
              "data": {"name": "weekly"},
              "mark": {"type": "bar", "size": 2, "orient": "vertical"},
              "encoding": {
                "x": {"field": "t", "type": "temporal"},
                "y": {"field": "o", "type": "quantitative"},
                "y2": {"field": "c"},
                "color": {"condition": {"test": "datum.c >= datum.o", "value": "#f0f0f0"}, "value": "#8e8e8e"}
              }
            },
            {
              "data": {"name": "levelsR"},
              "mark": {"type": "rule"},
              "encoding": {
                "x": {"field": "start", "type": "temporal"},
                "x2": {"datum": {"year": 2026, "month": 9, "date": 16, "utc": true}},
                "y": {"field": "p", "type": "quantitative"},
                "color": {"field": "zone", "type": "nominal", "scale": {"domain": ["resistance", "support", "pivot"], "range": ["#c81e1e", "#1fbf1f", "#f2b90c"]}, "legend": null},
                "strokeDash": {"field": "part", "type": "nominal", "scale": {"domain": ["edge", "mid"], "range": [[5, 3.5], [1.2, 1.8]]}, "legend": null},
                "strokeWidth": {"field": "part", "type": "ordinal", "scale": {"domain": ["edge", "mid"], "range": [1.6, 1]}, "legend": null}
              }
            },
            {
              "data": {"values": [{}]},
              "mark": {"type": "rect", "color": "#ffe600"},
              "encoding": {
                "x": {"datum": {"year": 2026, "month": 9, "date": 18, "utc": true}, "type": "temporal"},
                "x2": {"datum": {"year": 2026, "month": 11, "date": 15, "utc": true}},
                "y": {"datum": 146.8, "type": "quantitative"},
                "y2": {"datum": 143.8}
              }
            },
            {
              "data": {"name": "weekly"},
              "transform": [{"filter": "datum.c == 146.19"}],
              "mark": {"type": "text", "font": "Roboto", "fontSize": 6.5, "color": "#1a1a1a", "align": "center", "baseline": "middle", "dy": 1},
              "encoding": {
                "x": {"datum": {"year": 2026, "month": 10, "date": 17, "utc": true}, "type": "temporal"},
                "y": {"field": "c", "type": "quantitative"},
                "text": {"field": "c", "type": "quantitative", "format": ".2f"}
              }
            },
            {
              "data": {"name": "weekly"},
              "transform": [{"filter": "datum.c == 146.19"}],
              "mark": {"type": "text", "font": "Roboto", "fontSize": 5.5, "color": "#1a1a1a", "align": "center", "baseline": "middle", "dy": 10, "text": "3d 4h"},
              "encoding": {
                "x": {"datum": {"year": 2026, "month": 10, "date": 17, "utc": true}, "type": "temporal"},
                "y": {"field": "c", "type": "quantitative"}
              }
            }
          ]
        },
        {
          "width": 438,
          "height": 105,
          "layer": [
            {
              "data": {"name": "bands"},
              "mark": {"type": "rect", "color": "#0a1520"},
              "encoding": {
                "x": {"datum": {"year": 2023, "month": 12, "date": 5, "utc": true}, "type": "temporal"},
                "x2": {"datum": {"year": 2026, "month": 9, "date": 16, "utc": true}},
                "y": {"field": "lo", "type": "quantitative"},
                "y2": {"field": "hi"}
              }
            },
            {
              "data": {"name": "guides"},
              "mark": {"type": "rule", "color": "#5d606b", "strokeDash": [2, 3], "strokeWidth": 0.8},
              "encoding": {"y": {"field": "v", "type": "quantitative"}}
            },
            {
              "data": {"name": "stochR"},
              "mark": {"type": "line", "color": "#2a5bd7", "strokeWidth": 1.3},
              "encoding": {
                "x": {"field": "t", "type": "temporal", "scale": {"type": "utc", "domain": [{"year": 2023, "month": 12, "date": 5, "utc": true}, {"year": 2026, "month": 9, "date": 16, "utc": true}]},
                  "axis": {"values": [{"year": 2024, "month": 1, "date": 1, "utc": true}, {"year": 2024, "month": 7, "date": 1, "utc": true}, {"year": 2025, "month": 1, "date": 1, "utc": true}, {"year": 2025, "month": 7, "date": 1, "utc": true}, {"year": 2026, "month": 1, "date": 1, "utc": true}, {"year": 2026, "month": 7, "date": 1, "utc": true}],
                    "tickCount": 50,
                    "labelExpr": "utcmonth(datum.value) == 0 ? utcFormat(datum.value, '%Y') : 'Jul'",
                    "labelFontWeight": {"condition": {"test": "utcmonth(datum.value) == 0", "value": "bold"}, "value": "normal"},
                    "labelColor": {"condition": {"test": "utcmonth(datum.value) == 0", "value": "#d1d4dc"}, "value": "#9598a1"},
                    "labelPadding": 4, "minExtent": 17, "maxExtent": 17, "domain": true}},
                "y": {"field": "k", "type": "quantitative", "scale": {"domain": [0.5, 88.5], "nice": false, "zero": false}, "axis": {"orient": "right", "values": [20, 40, 60, 80], "tickCount": 50, "format": ".2f", "labelPadding": 4, "minExtent": 28, "maxExtent": 28}}
              }
            },
            {
              "data": {"name": "stochR"},
              "mark": {"type": "line", "color": "#cf6a1d", "strokeWidth": 1.3},
              "encoding": {"x": {"field": "t", "type": "temporal"}, "y": {"field": "d", "type": "quantitative"}}
            }
          ]
        }
      ]
    }
  ]
}
